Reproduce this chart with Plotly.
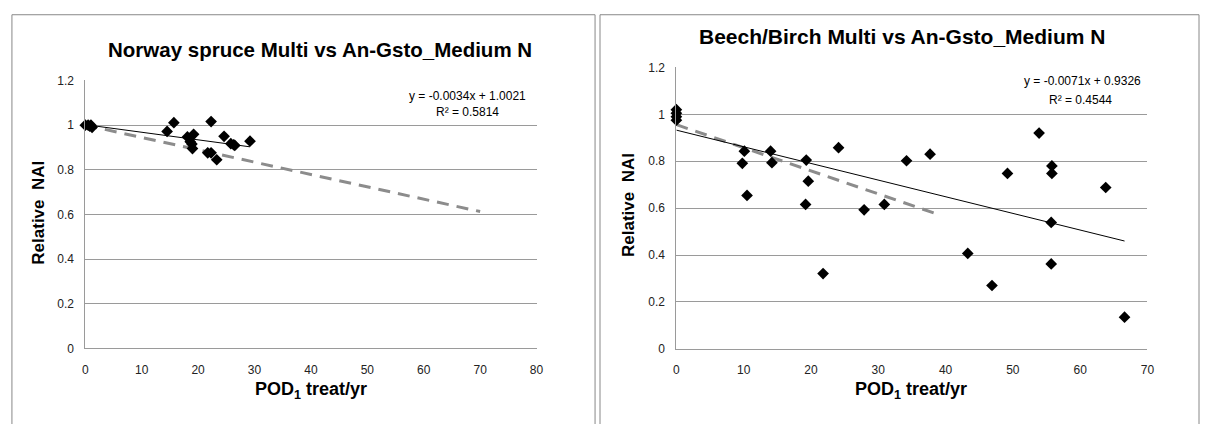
import plotly.graph_objects as go

W, H = 1207, 424

# ---- data: Norway spruce ----
spruce_x = [0, 0.5, 0.8, 1.0, 1.2, 14.5, 15.7, 18.1, 18.6, 18.9, 19.0, 19.2,
            21.7, 22.3, 22.3, 23.3, 24.6, 25.8, 26.3, 26.5, 29.2]
spruce_y = [1.0, 1.0, 0.995, 1.0, 0.99, 0.972, 1.011, 0.947, 0.926, 0.915, 0.895, 0.959,
            0.876, 0.876, 1.016, 0.845, 0.950, 0.917, 0.912, 0.909, 0.928]
spruce_slope, spruce_intercept, spruce_r2 = -0.0034, 1.0021, 0.5814
spruce_ref_x = [0, 70]
spruce_ref_y = [1.0, 0.613]

# ---- data: Beech/Birch ----
beech_x = [0, 0, 0, 0, 9.8, 10.1, 10.5, 14.0, 14.2, 19.2, 19.3, 19.6, 21.8, 24.1,
           27.9, 30.9, 34.2, 37.7, 43.3, 46.9, 49.2, 53.9, 55.8, 55.8, 55.7, 55.7,
           63.8, 66.6]
beech_y = [1.02, 1.005, 0.99, 0.975, 0.791, 0.843, 0.654, 0.843, 0.794, 0.616, 0.805, 0.715,
           0.321, 0.858, 0.593, 0.616, 0.802, 0.830, 0.407, 0.270, 0.748, 0.920,
           0.780, 0.748, 0.539, 0.362, 0.688, 0.135]
beech_slope, beech_intercept, beech_r2 = -0.0071, 0.9326, 0.4544
beech_ref_x = [0, 38.8]
beech_ref_y = [0.956, 0.574]

FONT = "Liberation Sans, Arial, sans-serif"
GRID = "#9a9a9a"

def px(x):
    return x / W

def py(y):
    return 1 - y / H

fig = go.Figure()

def add_panel(xs, ys, slope, intercept, refx, refy, xa, ya):
    fig.add_trace(go.Scatter(x=refx, y=refy, mode="lines",
                             line=dict(color="#8c8c8c", width=3, dash="12px,8px"),
                             xaxis=xa, yaxis=ya, showlegend=False))
    lx = [min(xs), max(xs)]
    ly = [slope * v + intercept for v in lx]
    fig.add_trace(go.Scatter(x=lx, y=ly, mode="lines",
                             line=dict(color="black", width=1),
                             xaxis=xa, yaxis=ya, showlegend=False))
    fig.add_trace(go.Scatter(x=xs, y=ys, mode="markers",
                             marker=dict(symbol="diamond", size=9, color="black"),
                             xaxis=xa, yaxis=ya, showlegend=False, cliponaxis=False))

add_panel(spruce_x, spruce_y, spruce_slope, spruce_intercept, spruce_ref_x, spruce_ref_y, "x", "y")
add_panel(beech_x, beech_y, beech_slope, beech_intercept, beech_ref_x, beech_ref_y, "x2", "y2")

axis_common = dict(showgrid=False, zeroline=False, showline=True, linecolor=GRID,
                   linewidth=1, ticks="", tickfont=dict(family=FONT, size=12, color="#222"),
                   ticklabelstandoff=10, fixedrange=True)
yaxis_common = dict(showgrid=True, gridcolor=GRID, gridwidth=1, zeroline=False,
                    showline=True, linecolor=GRID, linewidth=1, ticks="",
                    tickfont=dict(family=FONT, size=12, color="#222"), range=[0, 1.2],
                    dtick=0.2, tick0=0, ticklabelstandoff=8, fixedrange=True)

fig.update_layout(
    width=W, height=H, margin=dict(l=0, r=0, t=0, b=0),
    paper_bgcolor="white", plot_bgcolor="white",
    xaxis=dict(axis_common, domain=[px(83), px(538)], range=[0, 80], dtick=10, tick0=0,
               anchor="y"),
    yaxis=dict(yaxis_common, domain=[py(353), py(76)], anchor="x"),
    xaxis2=dict(axis_common, domain=[px(679), px(1154)], range=[0, 70], dtick=10, tick0=0,
                anchor="y2"),
    yaxis2=dict(yaxis_common, domain=[py(353.5), py(62.5)], anchor="x2"),
)

# panel borders
fig.add_shape(type="rect", xref="paper", yref="paper", x0=px(9), x1=px(597), y0=py(440), y1=py(8),
              line=dict(color="#888", width=1), layer="below")
fig.add_shape(type="rect", xref="paper", yref="paper", x0=px(602), x1=px(1206), y0=py(440), y1=py(8),
              line=dict(color="#888", width=1), layer="below")

def ann(text, x, y, size, bold=False, angle=0, xanchor="center"):
    if bold:
        text = "<b>" + text + "</b>"
    fig.add_annotation(text=text, xref="paper", yref="paper", x=px(x), y=py(y),
                       showarrow=False, xanchor=xanchor, yanchor="middle", textangle=angle,
                       font=dict(family=FONT, size=size, color="black"))

ann("Norway spruce Multi vs An-Gsto_Medium N", 320, 44, 20.5, bold=True)
ann("Beech/Birch Multi vs An-Gsto_Medium N", 907, 30, 21, bold=True)
ann("Relative  NAI", 36, 213, 17, bold=True, angle=-90)
ann("Relative  NAI", 630, 205, 17, bold=True, angle=-90)
ann("POD<sub>1</sub> treat/yr", 311, 397, 18, bold=True)
ann("POD<sub>1</sub> treat/yr", 916, 397, 18, bold=True)

ann(f"y = {spruce_slope:.4f}x + {spruce_intercept:.4f}", 529, 92, 12, xanchor="right")
ann(f"R² = {spruce_r2:.4f}", 468, 109, 12)
ann(f"y = {beech_slope:.4f}x + {beech_intercept:.4f}", 1150, 77, 12, xanchor="right")
ann(f"R² = {beech_r2:.4f}", 1086, 96, 12)

fig.write_html("out.html")
